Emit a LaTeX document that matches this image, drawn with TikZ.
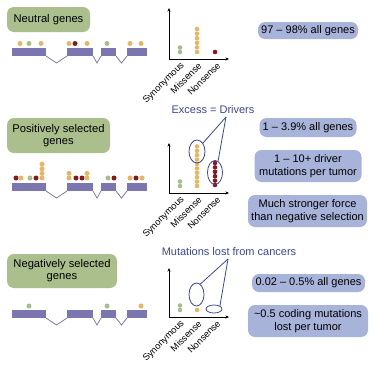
\documentclass[tikz,border=0pt]{standalone}
\usepackage{fontspec}
\setmainfont{Liberation Sans}
\usetikzlibrary{shapes.geometric,arrows.meta}
\definecolor{exon}{RGB}{123,118,176}
\definecolor{mutsyn}{RGB}{166,190,142}
\definecolor{mutmis}{RGB}{230,182,98}
\definecolor{mutnon}{RGB}{138,22,30}
\definecolor{greenbox}{RGB}{170,191,140}
\definecolor{bluebox}{RGB}{168,179,218}
\definecolor{callout}{RGB}{58,70,150}
\tikzset{
  genebox/.style={fill=greenbox,rounded corners=7pt,align=center,inner sep=0pt,
    font=\fontsize{11.2}{12}\selectfont},
  infobox/.style={fill=bluebox,rounded corners=7pt,align=center,inner sep=0pt,
    font=\fontsize{11}{12.5}\selectfont},
  axislabel/.style={rotate=45,anchor=east,inner sep=0pt,font=\fontsize{9.3}{10}\selectfont},
  calltext/.style={text=callout,inner sep=0pt,font=\fontsize{11}{12}\selectfont},
  selring/.style={ellipse,draw=callout,line width=0.8pt,inner sep=0pt},
  axisline/.style={line width=0.8pt,{Stealth[length=3.5pt,width=3pt]}-{Stealth[length=3.5pt,width=3pt]}}
}
\begin{document}
\begin{tikzpicture}[x=1pt,y=-1pt]
    \useasboundingbox (0,0) rectangle (375,375);
    % gene structures
    \foreach \y in {48,183,310}{
      \fill[exon] (12,\y) rectangle (46,\y+8);
      \fill[exon] (67,\y) rectangle (93,\y+8);
      \fill[exon] (101,\y) rectangle (116,\y+8);
      \fill[exon] (127,\y) rectangle (147,\y+8);
      \draw[exon,line width=0.8pt] (46,\y+8) -- (56.5,\y+15) -- (67,\y+8);
      \draw[exon,line width=0.8pt] (93,\y+8) -- (97,\y+15) -- (101,\y+8);
      \draw[exon,line width=0.8pt] (116,\y+8) -- (121.5,\y+15) -- (127,\y+8);
    }
    % neutral genes
    \node[genebox,minimum width=83,minimum height=25] (neutral) at (48.5,19.5) {Neutral genes};
    \foreach \x/\c in {20/mutmis,29/mutsyn,41/mutmis,69/mutmis,75/mutnon,87/mutmis,107/mutsyn,130/mutmis,141/mutmis}
      \fill[\c] (\x,43.5) circle (2.5);
    \draw[axisline] (169,8) |- (229,59);
    \foreach \k in {0,1} \fill[mutsyn] (180,52-4.5*\k) circle (2.3);
    \foreach \k in {0,...,5} \fill[mutmis] (197,52-4.6*\k) circle (2.3);
    \fill[mutnon] (215,52) circle (2.3);
    \node[axislabel] (syn1) at (183,64) {Synonymous};
    \node[axislabel] (mis1) at (200,64) {Missense};
    \node[axislabel] (non1) at (219,64) {Nonsense};
    \node[infobox,minimum width=100,minimum height=17] (all1) at (308,30.5) {97 -- 98\% all genes};
    % positively selected genes
    \node[genebox,minimum width=103,minimum height=35] (positive) at (58.5,135.5) {Positively selected\\genes};
    \foreach \x/\c in {16/mutnon,21/mutmis,30/mutsyn,36/mutnon,76/mutnon,82/mutnon,108/mutsyn,114/mutnon,130/mutmis,136/mutnon,142/mutmis}
      \fill[\c] (\x,178) circle (2.5);
    \foreach \k in {0,...,3} \fill[mutmis] (42,178-4.6*\k) circle (2.5);
    \foreach \x in {69,87} \foreach \k in {0,1} \fill[mutmis] (\x,178-4.6*\k) circle (2.5);
    \draw[axisline] (169,143) |- (229,193);
    \foreach \k in {0,1} \fill[mutsyn] (180,186-4.5*\k) circle (2.3);
    \foreach \k in {0,...,9} \fill[mutmis] (197,186-4.4*\k) circle (2.3);
    \foreach \k in {0,...,5} \fill[mutnon] (215,185-4.4*\k) circle (2.3);
    \node[selring,minimum width=16,minimum height=23] (misup) at (197,151.5) {};
    \node[selring,minimum width=15,minimum height=24] (nonup) at (215,172.5) {};
    \node[axislabel] (syn2) at (183,198) {Synonymous};
    \node[axislabel] (mis2) at (200,198) {Missense};
    \node[axislabel] (non2) at (219,198) {Nonsense};
    \node[calltext] (drivers) at (213,110) {Excess = Drivers};
    \coordinate (driverstip) at (226,117);
    \draw[callout,line width=0.8pt] (driverstip) -- (misup.north east);
    \draw[callout,line width=0.8pt] (driverstip) -- (nonup.75);
    \node[infobox,minimum width=97,minimum height=19] (all2) at (308,127.5) {1 -- 3.9\% all genes};
    \node[infobox,minimum width=107,minimum height=32] (driver) at (308,166) {1 -- 10+ driver\\mutations per tumor};
    \node[infobox,minimum width=119,minimum height=32] (force) at (307.5,211) {Much stronger force\\than negative selection};
    % negatively selected genes
    \node[genebox,minimum width=110,minimum height=34] (negative) at (62,271) {Negatively selected\\genes};
    \foreach \x/\c in {29/mutsyn,107/mutsyn,141/mutmis}
      \fill[\c] (\x,306) circle (2.5);
    \draw[axisline] (169,268) |- (229,317);
    \foreach \k in {0,1} \fill[mutsyn] (180,310-4.5*\k) circle (2.3);
    \fill[mutmis] (197,310) circle (2.3);
    \node[selring,minimum width=15,minimum height=23] (misdn) at (196.5,294.5) {};
    \node[selring,minimum width=16,minimum height=8] (nondn) at (214,309) {};
    \node[axislabel] (syn3) at (183,322) {Synonymous};
    \node[axislabel] (mis3) at (200,322) {Missense};
    \node[axislabel] (non3) at (219,322) {Nonsense};
    \node[calltext] (lost) at (229,252) {Mutations lost from cancers};
    \coordinate (losttip) at (228,259);
    \draw[callout,line width=0.8pt] (losttip) -- (misdn.70);
    \draw[callout,line width=0.8pt] (losttip) -- (nondn.north east);
    \node[infobox,minimum width=113,minimum height=18] (all3) at (308.5,283) {0.02 -- 0.5\% all genes};
    \node[infobox,minimum width=120,minimum height=32] (lostper) at (308,321) {\textasciitilde0.5 coding mutations\\lost per tumor};
\end{tikzpicture}
\end{document}
